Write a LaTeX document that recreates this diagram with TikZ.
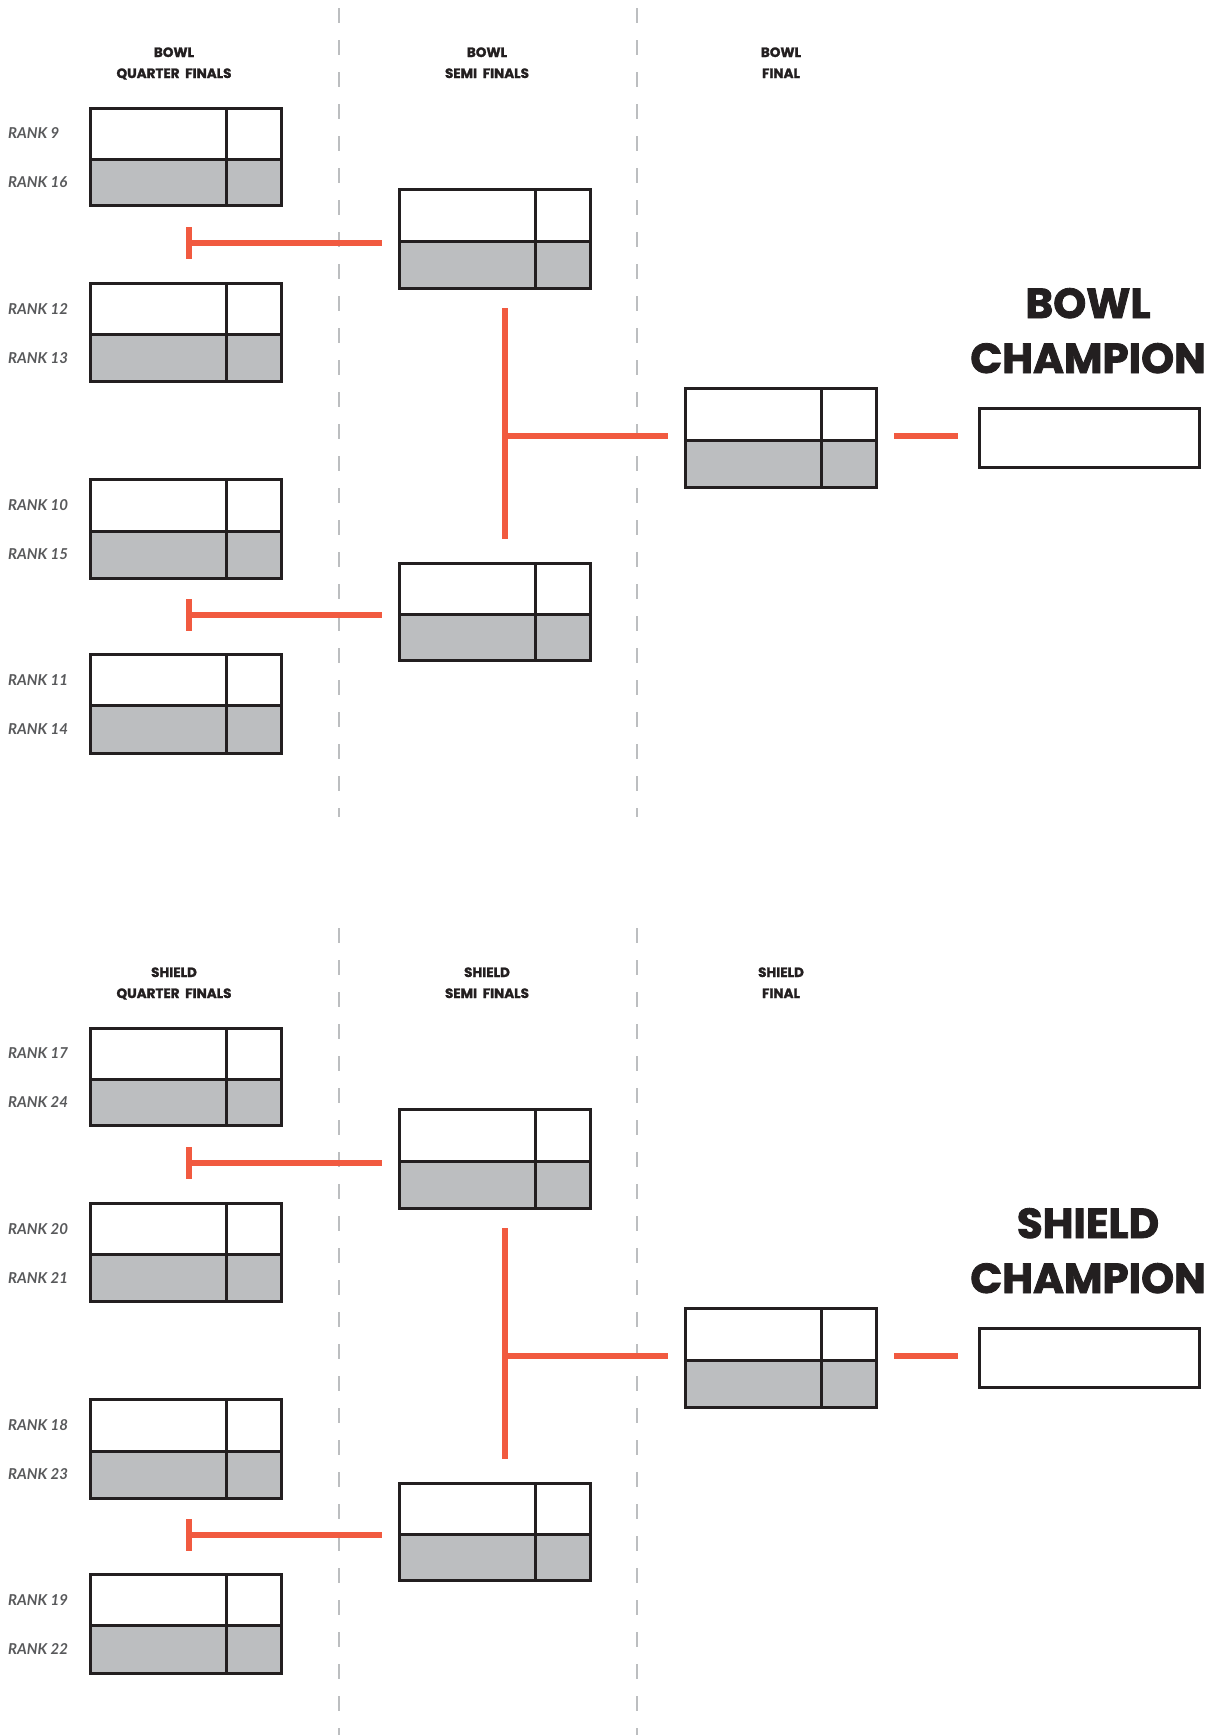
\documentclass[tikz,border=0pt]{standalone}
\usepackage{fontspec}
\usetikzlibrary{calc}
\newfontfamily\headfont{Poppins}
\newfontfamily\rankfont{Lato}
\definecolor{orng}{HTML}{F15A40}
\definecolor{boxgray}{HTML}{BCBEC0}
\definecolor{dashgray}{HTML}{BCBEC0}
\definecolor{ink}{HTML}{231F20}
\definecolor{rankgray}{HTML}{58595B}
\tikzset{
  boxline/.style={draw=ink, line width=3pt},
  conn/.style={draw=orng, line width=5.5pt},
  divider/.style={draw=dashgray, line width=2.5pt, dash pattern=on 15pt off 17pt},
  rank/.style={font=\rankfont\bfseries\itshape\fontsize{15}{18}\selectfont, text=rankgray, anchor=west, inner sep=0},
  head/.style={font=\headfont\bfseries\addfontfeatures{FakeBold=1.5}\fontsize{13.5}{16}\selectfont, text=ink, anchor=base, inner sep=0},
  champ/.style={font=\headfont\bfseries\addfontfeatures{FakeBold=2}\fontsize{42}{50}\selectfont, text=ink, anchor=base, inner sep=0},
}
% name, left, top, mid, bottom
\newcommand\gamebox[5]{%
  \fill[boxgray] (#2,#4) rectangle ({#2+191},#5);
  \draw[boxline] ({#2+137},#3) -- ({#2+137},#5);
  \draw[boxline] (#2,#4) -- ({#2+191},#4);
  \node[boxline, rectangle, inner sep=0, anchor=north west, minimum width=191pt, minimum height={(#5-#3)*1pt}] (#1) at (#2,#3) {};
}
% prefix, offset, word
\newcommand\bracketpart[3]{%
\begin{scope}[yshift=-#2pt]
  \draw[divider] (339,8) -- (339,817);
  \draw[divider] (637,8) -- (637,817);
  \node[head] (#1h1a) at (174,57) {#3};
  \node[head] (#1h1b) at (174,78) {QUARTER\ \ FINALS};
  \node[head] (#1h2a) at (487,57) {#3};
  \node[head] (#1h2b) at (487,78) {SEMI\ \ FINALS};
  \node[head] (#1h3a) at (781,57) {#3};
  \node[head] (#1h3b) at (781,78) {FINAL};
  \gamebox{#1qf1}{89}{107}{159}{204}
  \gamebox{#1qf2}{89}{282}{334}{380}
  \gamebox{#1qf3}{89}{478}{531}{577}
  \gamebox{#1qf4}{89}{653}{705}{752}
  \gamebox{#1sf1}{398}{188}{241}{287}
  \gamebox{#1sf2}{398}{562}{614}{659}
  \gamebox{#1fin}{684}{387}{440}{486}
  \node[boxline, rectangle, inner sep=0, anchor=north west, minimum width=220pt, minimum height=59pt] (#1champ) at (978,407) {};
  \node[champ] (#1ct1) at (1088,318) {#3};
  \node[champ] (#1ct2) at (1088,373) {CHAMPION};
  % quarter-final connectors
  \coordinate (#1t1) at (189,243);
  \coordinate (#1t2) at (189,615);
  \draw[conn] ([yshift=16pt]#1t1) -- ([yshift=-16pt]#1t1);
  \draw[conn] (#1t1) -- ($(#1sf1.west |- #1t1)+(-16,0)$);
  \draw[conn] ([yshift=16pt]#1t2) -- ([yshift=-16pt]#1t2);
  \draw[conn] (#1t2) -- ($(#1sf2.west |- #1t2)+(-16,0)$);
  % semi-final connector
  \coordinate (#1v1) at (505,308);
  \coordinate (#1v2) at (505,539);
  \coordinate (#1vj) at (505,436);
  \draw[conn] (#1v1) -- (#1v2);
  \draw[conn] (#1vj) -- ($(#1fin.west |- #1vj)+(-16,0)$);
  \draw[conn] ($(#1fin.east |- #1vj)+(16,0)$) -- ($(#1champ.west |- #1vj)+(-20,0)$);
\end{scope}}
\newcommand\ranklabels[9]{%
\begin{scope}[yshift=-#1pt]
  \node[rank] at (8,133) {RANK #2};
  \node[rank] at (8,182) {RANK #3};
  \node[rank] at (8,309) {RANK #4};
  \node[rank] at (8,358) {RANK #5};
  \node[rank] at (8,505) {RANK #6};
  \node[rank] at (8,554) {RANK #7};
  \node[rank] at (8,680) {RANK #8};
  \node[rank] at (8,729) {RANK #9};
\end{scope}}
\begin{document}
\begin{tikzpicture}[x=1pt, y=-1pt]
  \useasboundingbox (0,0) rectangle (1221,1735);
  \bracketpart{b}{0}{BOWL}
  \ranklabels{0}{9}{16}{12}{13}{10}{15}{11}{14}
  \bracketpart{s}{920}{SHIELD}
  \ranklabels{920}{17}{24}{20}{21}{18}{23}{19}{22}
\end{tikzpicture}
\end{document}
